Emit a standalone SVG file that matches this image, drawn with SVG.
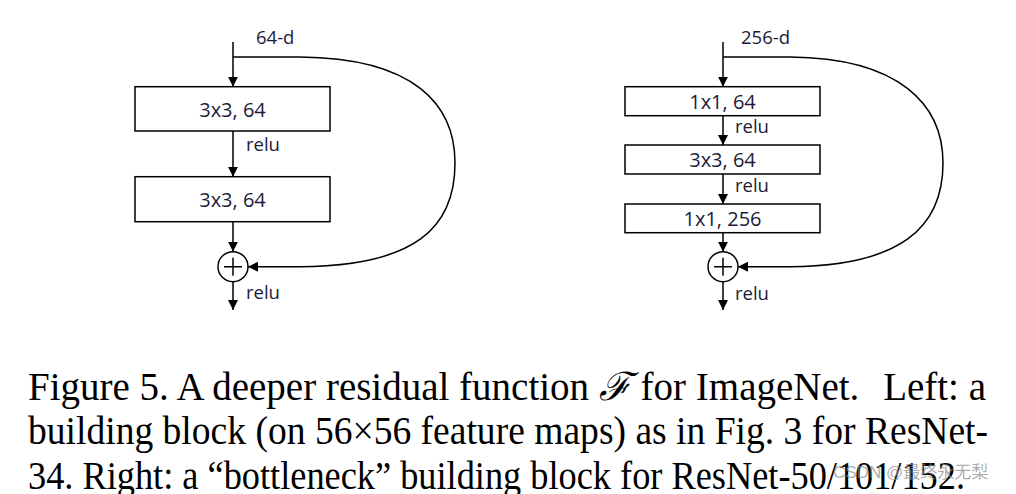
<svg xmlns="http://www.w3.org/2000/svg" width="1016" height="494" viewBox="0 0 1016 494">
<defs>
<marker id="ah" viewBox="0 0 10 10" refX="10" refY="5" markerWidth="10" markerHeight="10" markerUnits="userSpaceOnUse" orient="auto">
<path d="M0,0 L10,5 L0,10 z" fill="#000"/>
</marker>
<style>
.box{fill:#fff;stroke:#000;stroke-width:1.5}
.ln{fill:none;stroke:#000;stroke-width:1.5}
.arr{fill:none;stroke:#000;stroke-width:1.5;marker-end:url(#ah)}
.t{font-family:"Open Sans","Liberation Sans",sans-serif;font-size:20px;fill:#1c1c3a}
.lab{font-family:"Open Sans","Liberation Sans",sans-serif;font-size:18.5px;fill:#1c1c3a}
.cap{font-family:"Liberation Serif","DejaVu Serif",serif;font-size:39px;fill:#000}
</style>
</defs>
<rect width="1016" height="494" fill="#fff"/>

<g id="connectors">
<path class="arr" d="M233,42 V86.7"/>
<path class="arr" d="M233,131 V176.7"/>
<path class="arr" d="M233,221.7 V251.7"/>
<path class="arr" d="M233,281.7 V310"/>
<path class="arr" d="M233,57 L300,57 C415,58 455,105 455,163 C455,228 415,266 300,266.7 L248,266.7"/>
<path class="arr" d="M723,42 V86.7"/>
<path class="arr" d="M723,115.7 V145"/>
<path class="arr" d="M723,174 V204"/>
<path class="arr" d="M723,232.7 V251.7"/>
<path class="arr" d="M723,281.7 V310"/>
<path class="arr" d="M723,57 L790,57 C900,58 943,105 943,163 C943,228 900,266 790,266.7 L738,266.7"/>
</g>

<g id="left-input"><text class="lab" x="256" y="44">64-d</text></g>
<g id="left-conv1">
<rect class="box" x="135" y="86.7" width="195" height="44.3"/>
<text class="t" x="232.5" y="116.5" text-anchor="middle">3x3, 64</text>
</g>
<g id="left-relu1"><text class="lab" x="246" y="151">relu</text></g>
<g id="left-conv2">
<rect class="box" x="135" y="176.7" width="195" height="45"/>
<text class="t" x="232.5" y="206.5" text-anchor="middle">3x3, 64</text>
</g>
<g id="left-add">
<circle class="ln" cx="233" cy="266.7" r="15"/>
<path class="ln" d="M224,266.7 H242 M233,257.7 V275.7"/>
</g>
<g id="left-relu2"><text class="lab" x="246" y="299">relu</text></g>

<g id="right-input"><text class="lab" x="741" y="44">256-d</text></g>
<g id="right-conv1">
<rect class="box" x="625" y="86.7" width="195" height="29"/>
<text class="t" x="722.5" y="109" text-anchor="middle">1x1, 64</text>
</g>
<g id="right-relu1"><text class="lab" x="735" y="133">relu</text></g>
<g id="right-conv2">
<rect class="box" x="625" y="145" width="195" height="29"/>
<text class="t" x="722.5" y="167" text-anchor="middle">3x3, 64</text>
</g>
<g id="right-relu2"><text class="lab" x="735" y="191.5">relu</text></g>
<g id="right-conv3">
<rect class="box" x="625" y="204" width="195" height="28.7"/>
<text class="t" x="722.5" y="225.5" text-anchor="middle">1x1, 256</text>
</g>
<g id="right-add">
<circle class="ln" cx="723" cy="266.7" r="15"/>
<path class="ln" d="M714,266.7 H732 M723,257.7 V275.7"/>
</g>
<g id="right-relu3"><text class="lab" x="735" y="299.5">relu</text></g>

<g id="caption">
<text class="cap" x="28" y="400" textLength="958" lengthAdjust="spacingAndGlyphs">Figure 5. A deeper residual function <tspan font-family="DejaVu Serif,serif" font-style="italic">ℱ</tspan> for ImageNet. <tspan dx="14">Left: a</tspan></text>
<text class="cap" x="28" y="444" textLength="960" lengthAdjust="spacingAndGlyphs">building block (on 56×56 feature maps) as in Fig. 3 for ResNet-</text>
<text class="cap" x="28" y="489" textLength="937" lengthAdjust="spacingAndGlyphs">34. Right: a “bottleneck” building block for ResNet-50/101/152.</text>
</g>
<g id="watermark">
<text x="833" y="478" font-family="Liberation Sans,Noto Sans CJK SC,sans-serif" font-size="17" fill="#888" fill-opacity="0.7">CSDN @最终永无梨</text>
</g>
</svg>
